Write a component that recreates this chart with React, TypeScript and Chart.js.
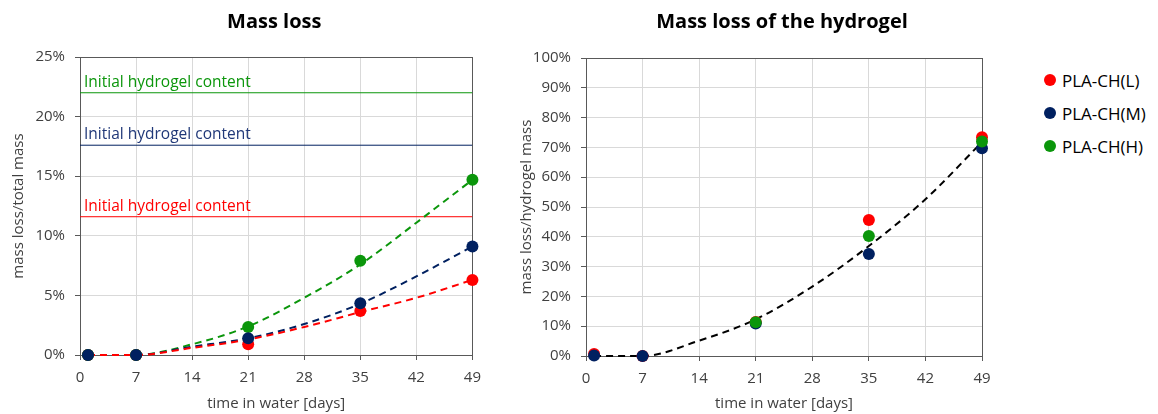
import React, { useEffect, useRef } from "react";
import { Chart, registerables } from "chart.js";

Chart.register(...registerables);

// ---- data ----
const DAYS = [1, 7, 21, 35, 49];
const X_TICKS = [0, 7, 14, 21, 28, 35, 42, 49];

// mass loss / total mass (%)
const TOTAL_L = [0, 0, 0.9, 3.7, 6.3];
const TOTAL_M = [0, 0, 1.4, 4.35, 9.1];
const TOTAL_H = [0, 0, 2.35, 7.9, 14.7];

// dashed trend curves (%)
const TREND_DAYS = [1, 7, 14, 21, 28, 35, 42, 49];
const TREND_TOTAL_L = [0, 0, 0.6, 1.3, 2.35, 3.6, 4.8, 6.3];
const TREND_TOTAL_M = [0, 0, 0.7, 1.4, 2.6, 4.3, 6.6, 9.1];
const TREND_TOTAL_H = [0, 0, 0.9, 2.4, 4.8, 7.6, 11.1, 14.7];

// initial hydrogel content lines (%)
const HYDROGEL_L = 11.6;
const HYDROGEL_M = 17.6;
const HYDROGEL_H = 22;
const HYDROGEL_LABEL = "Initial hydrogel content";

// mass loss / hydrogel mass (%)
const HYD_L = [0.7, 0, 11.4, 45.6, 73.4];
const HYD_M = [0.2, 0, 10.9, 34.2, 69.7];
const HYD_H = [null, null, 11.3, 40.3, 72];
const TREND_HYD = [0, 0, 5.15, 12.3, 23.3, 36.9, 52.6, 71.8];

const SERIES_NAMES = ["PLA-CH(L)", "PLA-CH(M)", "PLA-CH(H)"];
const TITLE_LEFT = "Mass loss";
const TITLE_RIGHT = "Mass loss of the hydrogel";

// ---- styles ----
const RED = "#ff0000";
const NAVY = "#002060";
const GREEN = "#0b960b";
const FONT = "'Open Sans', 'Noto Sans', sans-serif";
const TEXT = "#404040";
const GRID = "#d9d9d9";
const FRAME = "#595959";

const pts = (xs: number[], ys: (number | null)[]) => xs.map((x, i) => ({ x, y: ys[i] }));

const framePlugin = {
  id: "frameAndTitle",
  beforeDatasetsDraw(chart: any) {
    const { ctx, chartArea } = chart;
    const { left, top, right, bottom } = chartArea;
    ctx.save();
    ctx.strokeStyle = FRAME;
    ctx.lineWidth = 1;
    ctx.strokeRect(Math.round(left) + 0.5, Math.round(top) + 0.5, Math.round(right - left), Math.round(bottom - top));
    ctx.restore();
  },
  afterDraw(chart: any) {
    const opts = chart.options.plugins.frameAndTitle || {};
    const { ctx, chartArea } = chart;
    ctx.save();
    ctx.fillStyle = "#000";
    ctx.font = `bold 20px ${FONT}`;
    ctx.textAlign = "center";
    ctx.textBaseline = "middle";
    ctx.fillText(opts.title || "", (chartArea.left + chartArea.right) / 2 - 2, 22);
    const labels = opts.labels || [];
    ctx.font = `15.5px ${FONT}`;
    ctx.textAlign = "left";
    ctx.textBaseline = "alphabetic";
    for (const l of labels) {
      const y = chart.scales.y.getPixelForValue(l.value);
      ctx.fillStyle = l.color;
      ctx.fillText(l.text, chartArea.left + 4, y - 6);
    }
    ctx.restore();
  },
};

function makeOptions(
  yMax: number,
  yStep: number,
  yTitle: string,
  yWidth: number,
  yTitlePad: number,
  xHeight: number,
  padding: any,
  title: string,
  labels: any[]
) {
  return {
    responsive: false,
    animation: false,
    layout: { padding },
    plugins: {
      legend: { display: false },
      tooltip: { enabled: false },
      title: { display: false },
      frameAndTitle: { title, labels },
    },
    scales: {
      x: {
        type: "linear",
        min: 0,
        max: 49,
        afterBuildTicks: (s: any) => {
          s.ticks = X_TICKS.map((v) => ({ value: v }));
        },
        afterFit: (s: any) => {
          s.height = xHeight;
        },
        grid: { color: GRID, tickLength: 5, tickColor: FRAME, drawTicks: true },
        border: { color: FRAME, width: 1 },
        ticks: { color: TEXT, font: { family: FONT, size: 15 }, padding: 9, maxRotation: 0 },
        title: {
          display: true,
          text: "time in water [days]",
          color: TEXT,
          font: { family: FONT, size: 15 },
          padding: { top: 0, bottom: 1 },
        },
      },
      y: {
        type: "linear",
        min: 0,
        max: yMax,
        ticks: {
          stepSize: yStep,
          color: TEXT,
          font: { family: FONT, size: 15 },
          padding: 10,
          callback: (v: any) => `${v}%`,
        },
        afterFit: (s: any) => {
          s.width = yWidth;
        },
        grid: { color: GRID, tickLength: 5, tickColor: FRAME },
        border: { color: FRAME, width: 1 },
        title: {
          display: true,
          text: yTitle,
          color: TEXT,
          font: { family: FONT, size: 15 },
          padding: { top: yTitlePad, bottom: 0 },
        },
      },
    },
  };
}

// lower order = drawn on top
function scatter(label: string, data: any[], color: string, order: number) {
  return {
    type: "scatter",
    label,
    data,
    showLine: false,
    pointRadius: 6,
    pointBackgroundColor: color,
    pointBorderColor: color,
    pointBorderWidth: 0,
    clip: false,
    order,
  };
}

function trend(data: any[], color: string) {
  return {
    type: "line",
    label: "trend",
    data,
    borderColor: color,
    borderWidth: 2,
    borderDash: [7, 5],
    pointRadius: 0,
    fill: false,
    cubicInterpolationMode: "monotone",
    clip: false,
    order: 10,
  };
}

function hline(value: number, color: string) {
  return {
    type: "line",
    label: "hydrogel",
    data: [
      { x: 0, y: value },
      { x: 49, y: value },
    ],
    borderColor: color,
    borderWidth: 1,
    pointRadius: 0,
    fill: false,
    order: 20,
  };
}

function LeftChart() {
  const ref = useRef<HTMLCanvasElement>(null);
  useEffect(() => {
    const chart = new Chart(ref.current as HTMLCanvasElement, {
      type: "scatter",
      data: {
        datasets: [
          hline(HYDROGEL_H, GREEN),
          hline(HYDROGEL_M, NAVY),
          hline(HYDROGEL_L, RED),
          trend(pts(TREND_DAYS, TREND_TOTAL_L), RED),
          trend(pts(TREND_DAYS, TREND_TOTAL_M), NAVY),
          trend(pts(TREND_DAYS, TREND_TOTAL_H), GREEN),
          scatter(SERIES_NAMES[0], pts(DAYS, TOTAL_L), RED, 3),
          scatter(SERIES_NAMES[2], pts(DAYS, TOTAL_H), GREEN, 2),
          scatter(SERIES_NAMES[1], pts(DAYS, TOTAL_M), NAVY, 1),
        ] as any,
      },
      options: makeOptions(25, 5, "mass loss/total mass", 80, 10, 59, { top: 57, right: 15, left: 0, bottom: 0 }, TITLE_LEFT, [
        { value: HYDROGEL_H, color: GREEN, text: HYDROGEL_LABEL },
        { value: HYDROGEL_M, color: "#203878", text: HYDROGEL_LABEL },
        { value: HYDROGEL_L, color: RED, text: HYDROGEL_LABEL },
      ]) as any,
      plugins: [framePlugin],
    });
    return () => chart.destroy();
  }, []);
  return <canvas ref={ref} width={490} height={414} style={{ position: "absolute", left: 0, top: 0 }} />;
}

function RightChart() {
  const ref = useRef<HTMLCanvasElement>(null);
  useEffect(() => {
    const chart = new Chart(ref.current as HTMLCanvasElement, {
      type: "scatter",
      data: {
        datasets: [
          trend(pts(TREND_DAYS, TREND_HYD), "#000000"),
          scatter(SERIES_NAMES[0], pts(DAYS, HYD_L), RED, 3),
          scatter(SERIES_NAMES[1], pts(DAYS, HYD_M), NAVY, 2),
          scatter(SERIES_NAMES[2], pts(DAYS, HYD_H), GREEN, 1),
        ] as any,
      },
      options: makeOptions(100, 10, "mass loss/hydrogel mass", 96, 28, 58, { top: 58, right: 18, left: 0, bottom: 0 }, TITLE_RIGHT, []) as any,
      plugins: [framePlugin],
    });
    return () => chart.destroy();
  }, []);
  return <canvas ref={ref} width={510} height={414} style={{ position: "absolute", left: 490, top: 0 }} />;
}

const LEGEND_COLORS = [RED, NAVY, GREEN];

export default function App() {
  useEffect(() => {
    document.body.style.margin = "0";
  }, []);
  return (
    <div style={{ position: "relative", width: 1158, height: 414, background: "#fff", overflow: "hidden" }}>
      <LeftChart />
      <RightChart />
      {SERIES_NAMES.map((name, i) => (
        <div
          key={name}
          style={{
            position: "absolute",
            left: 1044,
            top: 80 + i * 33 - 12,
            height: 24,
            display: "flex",
            alignItems: "center",
            fontFamily: FONT,
            fontSize: 17,
            color: "#000",
            whiteSpace: "nowrap",
          }}
        >
          <span
            style={{
              display: "inline-block",
              width: 12,
              height: 12,
              borderRadius: 6,
              background: LEGEND_COLORS[i],
              marginRight: 6,
            }}
          />
          {name}
        </div>
      ))}
    </div>
  );
}
